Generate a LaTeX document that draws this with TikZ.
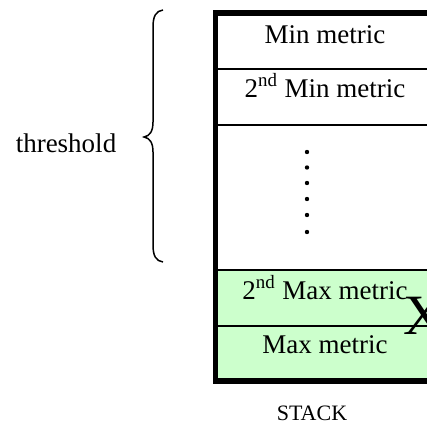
\documentclass[tikz,border=0pt]{standalone}
\usepackage{fontspec}
\setmainfont{Liberation Serif}
\definecolor{stackgreen}{HTML}{CCFFCC}
\begin{document}
\begin{tikzpicture}[x=0.5pt,y=-0.5pt,
  thinrule/.style={line width=1pt},
  thickrule/.style={line width=2.6pt},
  entry/.style={font=\fontsize{13.5}{16}\selectfont,anchor=base,inner sep=0pt},
  caption/.style={font=\fontsize{11}{13}\selectfont,anchor=base,inner sep=0pt},
  bigmark/.style={font=\fontsize{28.5}{30}\selectfont,inner sep=0pt},
  bracestroke/.style={line width=0.75pt},
  dot/.style={circle,fill=black,inner sep=0pt,minimum size=2.2pt}]
\path[use as bounding box, clip] (0,0) rectangle (427,428);

% lower (green) part of the stack
\fill[stackgreen] (215,270) rectangle (440,381);

% separators between stack entries
\draw[thinrule] (215,69) -- (440,69);
\draw[thinrule] (215,125) -- (440,125);
\draw[thinrule] (215,270) -- (440,270);
\draw[thinrule] (215,326) -- (440,326);

% thick outer frame of the stack
\draw[thickrule] (440,13) -- (215.5,13) -- (215.5,381) -- (440,381);

% entries
\node[entry] (minm) at (325,43) {Min metric};
\node[entry] (min2) at (325,97) {2\textsuperscript{nd} Min metric};
\node[entry] (max2) at (325,299) {2\textsuperscript{nd} Max metric};
\node[entry] (maxm) at (325,353) {Max metric};
\node[bigmark] (xmark) at (424,316) {X};

% vertical ellipsis
\foreach \k/\yy in {1/152,2/167.5,3/183,4/199,5/215,6/232}
  \node[dot] (d\k) at (307,\yy) {};

% curly brace spanning the threshold region
\draw[bracestroke] (163,10) .. controls (156,11) and (153,16) .. (153,27)
  -- (153,122) .. controls (153,131) and (150,136) .. (144,137)
  .. controls (150,138) and (153,143) .. (153,152)
  -- (153,245) .. controls (153,256) and (156,261) .. (163,262);

\node[entry] (thr) at (66,152) {threshold};
\node[caption] (stk) at (312,420) {STACK};
\end{tikzpicture}
\end{document}
